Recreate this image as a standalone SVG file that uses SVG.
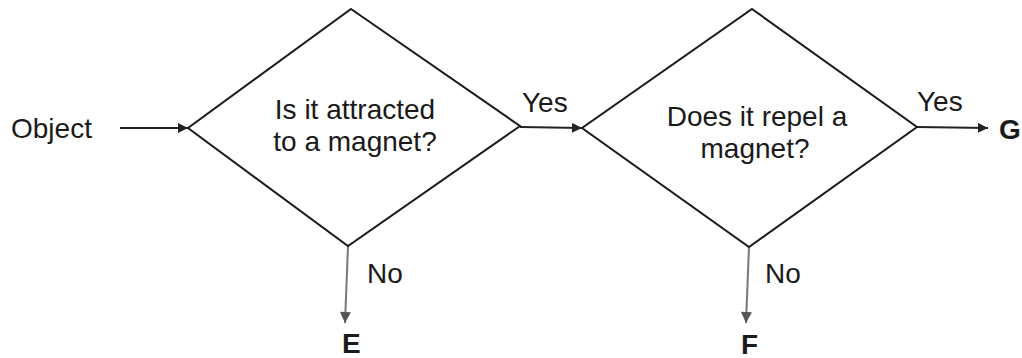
<svg xmlns="http://www.w3.org/2000/svg" width="1022" height="358" viewBox="0 0 1022 358">
<defs>
<style>
.t{font-family:"Liberation Sans",Arial,sans-serif;font-size:28px;fill:#1a1a1a}
.b{font-family:"Liberation Sans",Arial,sans-serif;font-size:28px;font-weight:bold;fill:#1a1a1a}
.d{fill:#fff;stroke:#1a1a1a;stroke-width:2}
.c{fill:none;stroke:#222;stroke-width:1.8}
.g{fill:none;stroke:#777;stroke-width:2}
</style>
<marker id="ah" viewBox="0 0 10 10" refX="10" refY="5" markerWidth="13" markerHeight="10" markerUnits="userSpaceOnUse" orient="auto">
<path d="M0,0 L10,5 L0,10 Z" fill="#222"/>
</marker>
<marker id="ahg" viewBox="0 0 10 10" refX="10" refY="5" markerWidth="13" markerHeight="11" markerUnits="userSpaceOnUse" orient="auto">
<path d="M0,0 L10,5 L0,10 Z" fill="#555"/>
</marker>
</defs>
<rect width="1022" height="358" fill="#fff"/>
<g id="connectors">
<line class="c" x1="120" y1="128" x2="188" y2="128" marker-end="url(#ah)"/>
<line class="c" x1="520" y1="127" x2="582" y2="128" marker-end="url(#ah)"/>
<line class="c" x1="917" y1="127" x2="988" y2="128" marker-end="url(#ah)"/>
<line class="g" x1="348" y1="246" x2="345" y2="323" marker-end="url(#ahg)"/>
<line class="g" x1="749" y1="247" x2="746" y2="323" marker-end="url(#ahg)"/>
<text class="t" x="522" y="112" font-size="26">Yes</text>
<text class="t" x="917" y="111">Yes</text>
<text class="t" x="367" y="283">No</text>
<text class="t" x="765" y="283">No</text>
</g>
<g id="object"><text class="t" x="11" y="138">Object</text></g>
<g id="q1">
<polygon class="d" points="351,9 520,126 348,246 188,128"/>
<text class="t" x="355" y="119" text-anchor="middle">Is it attracted</text>
<text class="t" x="355" y="151" text-anchor="middle">to a magnet?</text>
</g>
<g id="q2">
<polygon class="d" points="752,9 917,127 749,247 582,128"/>
<text class="t" x="757" y="126" text-anchor="middle">Does it repel a</text>
<text class="t" x="755" y="158" text-anchor="middle">magnet?</text>
</g>
<g id="E"><text class="b" x="342" y="353">E</text></g>
<g id="F"><text class="b" x="741" y="354">F</text></g>
<g id="G"><text class="b" x="999" y="139">G</text></g>
</svg>
